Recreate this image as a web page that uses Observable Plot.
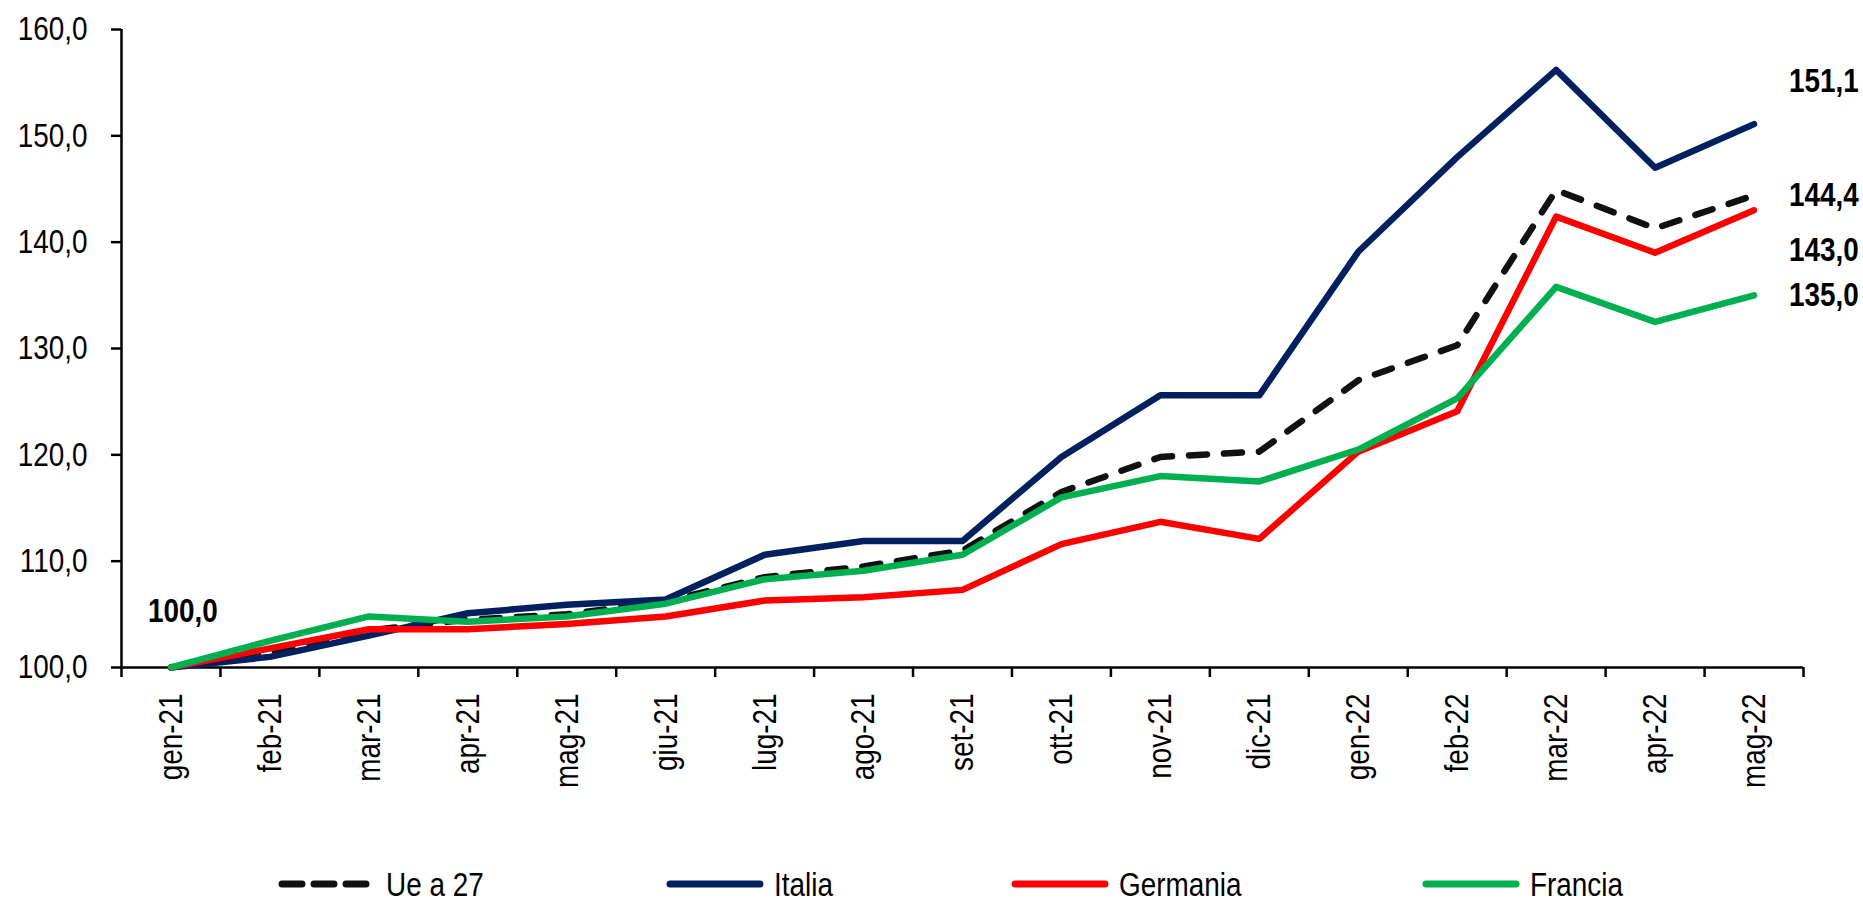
<!DOCTYPE html>
<html><head><meta charset="utf-8">
<script src="https://cdn.jsdelivr.net/npm/d3@7"></script>
<script src="https://cdn.jsdelivr.net/npm/@observablehq/plot@0.6"></script>
<style>
body{margin:0;background:#fff;}
#wrap{position:relative;width:1863px;height:900px;font-family:"Liberation Sans",Arial,sans-serif;}
.leg{position:absolute;top:865px;height:38px;display:flex;align-items:center;font-size:34px;color:#000;white-space:nowrap;}
.leg svg{margin-right:8px;display:block}
.leg span{display:inline-block;transform:scaleX(0.82);transform-origin:left center}
</style></head><body><div id="wrap"></div>
<script>
const months = ["gen-21","feb-21","mar-21","apr-21","mag-21","giu-21","lug-21","ago-21","set-21","ott-21","nov-21","dic-21","gen-22","feb-22","mar-22","apr-22","mag-22"];
const ue27     = [100.0,101.5,103.5,104.5,105.0,106.2,108.5,109.5,111.0,116.5,119.8,120.3,127.0,130.3,144.9,141.3,144.4];
const italia   = [100.0,101.0,103.0,105.1,105.9,106.4,110.6,111.9,111.9,119.8,125.6,125.6,139.1,148.0,156.2,147.0,151.1];
const germania = [100.0,101.8,103.6,103.6,104.1,104.8,106.3,106.6,107.3,111.6,113.7,112.1,120.3,124.1,142.4,139.0,143.0];
const francia  = [100.0,102.5,104.8,104.3,104.8,106.0,108.3,109.1,110.6,116.0,118.0,117.5,120.5,125.3,135.8,132.5,135.0];
const seriesNames  = ["Ue a 27","Italia","Germania","Francia"];
const seriesValues = [ue27, italia, germania, francia];
const seriesColors = ["#111111","#002060","#FF0000","#00B050"];
const yTicks = [100,110,120,130,140,150,160];
const endLabelDy = [0,-43,40,0];

const FONT = '"Liberation Sans",Arial,sans-serif';
const NARROW = 0.82;
const fmt = v => v.toFixed(1).replace(".", ",");

const rows = seriesNames.map((s, k) => seriesValues[k].map((v, i) => ({s, i, v})));
const last = months.length - 1;

const lineMarks = rows.map((r, k) => Plot.line(r, {
  x: "i", y: "v", stroke: seriesColors[k], strokeWidth: 6.5,
  strokeLinecap: "round", strokeLinejoin: "round",
  strokeDasharray: k === 0 ? "18,17" : null
}));

const endLabels = seriesNames.map((s, k) => Plot.text([{i: last, v: seriesValues[k][last]}], {
  x: "i", y: "v", text: d => fmt(d.v), dx: 35, dy: endLabelDy[k],
  textAnchor: "start", fontWeight: "bold", fontSize: 34, fill: "#000"
}));

const chart = Plot.plot({
  width: 1863, height: 800,
  marginLeft: 121, marginRight: 60, marginTop: 29, marginBottom: 133,
  style: {fontFamily: FONT, fontSize: "34px", color: "#000", background: "transparent", overflow: "visible"},
  x: {type: "linear", domain: [-0.5, last + 0.5], axis: null},
  y: {domain: [100, 160], axis: null},
  marks: [
    Plot.axisY({ticks: yTicks, tickFormat: fmt, tickSize: 10, tickPadding: 24, strokeWidth: 2.5, fontSize: 34, label: null}),
    Plot.axisX({ticks: d3.range(months.length + 1).map(i => i - 0.5), tickFormat: () => "", tickSize: 10, strokeWidth: 2.5, label: null}),
    Plot.axisX({ticks: d3.range(months.length), tickFormat: i => months[i], tickSize: 0, tickPadding: 26, tickRotate: -90, fontSize: 34, label: null}),
    Plot.ruleX([-0.5], {stroke: "#000", strokeWidth: 2.5}),
    Plot.ruleY([100], {stroke: "#000", strokeWidth: 2.5}),
    ...lineMarks,
    Plot.text([{i: 0, v: seriesValues[0][0]}], {x: "i", y: "v", text: d => fmt(d.v), dx: 12, dy: -56, fontWeight: "bold", fontSize: 34, fill: "#000"}),
    ...endLabels
  ]
});

// condense every text along its own direction (Arial Narrow look)
chart.querySelectorAll("text").forEach(t => {
  const x = parseFloat(t.getAttribute("x"));
  const tr = t.getAttribute("transform") || "";
  const sc = (isFinite(x) && x !== 0)
    ? ` translate(${x},0) scale(${NARROW},1) translate(${-x},0)`
    : ` scale(${NARROW},1)`;
  t.setAttribute("transform", (tr + sc).trim());
});

const wrap = document.getElementById("wrap");
wrap.appendChild(chart);

const legLeft = [278, 666, 1011, 1422];
seriesNames.forEach((s, k) => {
  const d = document.createElement("div");
  d.className = "leg";
  d.style.left = legLeft[k] + "px";
  const dash = k === 0 ? 'stroke-dasharray="20,12"' : "";
  d.innerHTML = `<svg width="100" height="14"><line x1="4" y1="7" x2="${k === 0 ? 88 : 94}" y2="7" stroke="${seriesColors[k]}" stroke-width="7" stroke-linecap="round" ${dash}/></svg><span>${s}</span>`;
  wrap.appendChild(d);
});
</script></body></html>
